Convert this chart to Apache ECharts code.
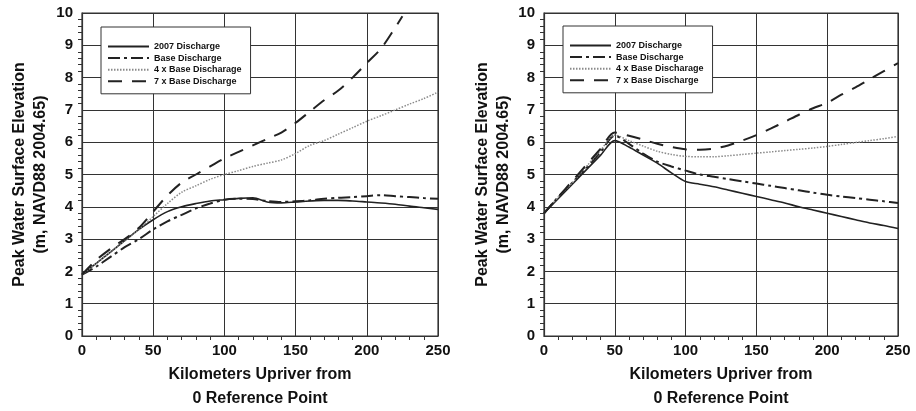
<!DOCTYPE html>
<html>
<head>
<meta charset="utf-8">
<title>Peak Water Surface Elevation</title>
<script src="https://cdn.jsdelivr.net/npm/echarts@6/dist/echarts.min.js"></script>
<style>
  html, body { margin: 0; padding: 0; background: #fff; }
  #chart { width: 916px; height: 411px; }
</style>
</head>
<body>
<div id="chart"></div>
<script>
// 数据
var seriesNames = ['2007 Discharge', 'Base Discharge', '4 x Base Discharage', '7 x Base Discharge'];
var xTicks = [0, 50, 100, 150, 200, 250];
var yTicks = [0, 1, 2, 3, 4, 5, 6, 7, 8, 9, 10];

var km = [0, 10, 20, 30, 40, 50, 60, 70, 80, 90, 100, 110, 120, 130, 140, 150, 160, 170, 180, 190, 200, 210, 220, 230, 240, 250];
var kmLeft7x = [0, 10, 20, 30, 40, 50, 60, 70, 80, 90, 100, 110, 120, 130, 140, 150, 160, 170, 180, 190, 200, 210, 220, 225];

// left panel
var left2007 = [1.9, 2.25, 2.6, 2.95, 3.3, 3.6, 3.85, 4.0, 4.1, 4.18, 4.22, 4.26, 4.28, 4.15, 4.12, 4.15, 4.18, 4.2, 4.2, 4.18, 4.15, 4.12, 4.08, 4.02, 3.97, 3.92];
var leftBase = [1.9, 2.15, 2.45, 2.75, 3.0, 3.3, 3.55, 3.75, 3.95, 4.1, 4.22, 4.25, 4.24, 4.18, 4.15, 4.17, 4.2, 4.25, 4.28, 4.3, 4.33, 4.36, 4.33, 4.3, 4.27, 4.25];
var left4x = [1.9, 2.25, 2.6, 2.95, 3.3, 3.7, 4.1, 4.45, 4.65, 4.85, 5.0, 5.12, 5.25, 5.35, 5.45, 5.65, 5.9, 6.05, 6.25, 6.45, 6.65, 6.82, 7.0, 7.18, 7.35, 7.55];
var left7x = [1.9, 2.35, 2.7, 3.0, 3.35, 3.85, 4.35, 4.75, 5.0, 5.25, 5.5, 5.7, 5.9, 6.1, 6.3, 6.6, 6.95, 7.3, 7.6, 8.0, 8.45, 8.9, 9.55, 9.9];

// right panel
var right2007 = [3.8, 4.25, 4.7, 5.15, 5.6, 6.05, 5.85, 5.6, 5.35, 5.05, 4.78, 4.7, 4.62, 4.52, 4.42, 4.32, 4.22, 4.12, 4.0, 3.9, 3.8, 3.7, 3.6, 3.5, 3.42, 3.33];
var rightBase = [3.8, 4.3, 4.75, 5.2, 5.7, 6.2, 5.95, 5.65, 5.4, 5.25, 5.12, 5.0, 4.93, 4.86, 4.79, 4.72, 4.65, 4.58, 4.51, 4.44, 4.37, 4.32, 4.27, 4.22, 4.17, 4.12];
var right4x = [3.8, 4.3, 4.75, 5.25, 5.75, 6.22, 6.05, 5.88, 5.72, 5.62, 5.56, 5.55, 5.55, 5.58, 5.62, 5.66, 5.7, 5.74, 5.78, 5.82, 5.87, 5.93, 5.99, 6.05, 6.11, 6.18];
var right7x = [3.8, 4.3, 4.8, 5.3, 5.8, 6.3, 6.2, 6.08, 5.95, 5.85, 5.78, 5.77, 5.8, 5.9, 6.05, 6.22, 6.42, 6.63, 6.85, 7.05, 7.22, 7.47, 7.7, 7.95, 8.2, 8.45];

function pairs(xs, ys) {
    return xs.map(function (x, i) { return [x, ys[i]]; });
}

var font = "'Liberation Sans', Arial, sans-serif";
var ink = '#222';

// 线型
var styles = [
    { color: ink, width: 1.6, type: 'solid' },
    { color: ink, width: 2, type: [12, 4, 3, 4] },
    { color: '#8a8a8a', width: 1.5, type: [1.5, 1.5] },
    { color: ink, width: 2, type: [14, 10] }
];

function makeGrid(left, right) {
    return {
        left: left, right: right, top: 13, bottom: 75,
        outerBoundsMode: 'none',
        containLabel: false,
        show: true, borderColor: '#333', borderWidth: 1.2,
        backgroundColor: 'transparent'
    };
}

function makeX(idx) {
    return {
        type: 'value', gridIndex: idx, min: 0, max: 250, interval: 50,
        name: 'Kilometers Upriver from\n0 Reference Point',
        nameLocation: 'middle', nameGap: 27,
        nameTextStyle: { fontFamily: font, fontWeight: 'bold', fontSize: 16, color: '#111', lineHeight: 24 },
        axisLine: { show: true, lineStyle: { color: '#333', width: 1.2 } },
        axisTick: { show: false },
        minorTick: { show: true, splitNumber: 5, length: 4, lineStyle: { color: '#333' } },
        splitLine: { show: true, lineStyle: { color: '#333', width: 1 } },
        axisLabel: { fontFamily: font, fontWeight: 'bold', fontSize: 15, color: '#111', margin: 7,
            formatter: function (v) { return xTicks.indexOf(v) >= 0 ? String(v) : ''; } }
    };
}

function makeY(idx, gap) {
    return {
        type: 'value', gridIndex: idx, min: 0, max: 10, interval: 1,
        name: 'Peak Water Surface Elevation\n(m, NAVD88 2004.65)',
        nameLocation: 'middle', nameGap: gap, nameRotate: 90,
        nameTextStyle: { fontFamily: font, fontWeight: 'bold', fontSize: 16, color: '#111', lineHeight: 21 },
        axisLine: { show: true, lineStyle: { color: '#333', width: 1.2 } },
        axisTick: { show: false },
        minorTick: { show: true, splitNumber: 5, length: 4, lineStyle: { color: '#333' } },
        splitLine: { show: true, lineStyle: { color: '#333', width: 1 } },
        axisLabel: { fontFamily: font, fontWeight: 'bold', fontSize: 15, color: '#111', margin: 9,
            formatter: function (v) { return yTicks.indexOf(v) >= 0 ? String(v) : ''; } }
    };
}

function makeLegend(left, top) {
    return {
        orient: 'vertical', left: left, top: top,
        data: seriesNames,
        backgroundColor: '#fff',
        borderColor: '#333', borderWidth: 1,
        padding: [15, 9, 8, 6],
        itemGap: 2.6, itemWidth: 41, itemHeight: 9,
        selectedMode: false,
        itemStyle: { opacity: 0 },
        textStyle: { fontFamily: font, fontWeight: 'bold', fontSize: 9, color: '#111' }
    };
}

function line(name, idx, data, s) {
    return {
        name: name, type: 'line', xAxisIndex: idx, yAxisIndex: idx,
        data: data, symbol: 'none', smooth: 0.3, silent: true,
        color: s.color,
        lineStyle: { color: s.color, width: s.width, type: s.type }
    };
}

var chart = echarts.init(document.getElementById('chart'), null, { renderer: 'canvas' });
chart.setOption({
    animation: false,
    backgroundColor: '#fff',
    grid: [makeGrid(82, 478), makeGrid(544, 18)],
    xAxis: [makeX(0), makeX(1)],
    yAxis: [makeY(0, 31), makeY(1, 30)],
    legend: [makeLegend(101, 27), makeLegend(563, 26)],
    series: [
        line(seriesNames[0], 0, pairs(km, left2007), styles[0]),
        line(seriesNames[1], 0, pairs(km, leftBase), styles[1]),
        line(seriesNames[2], 0, pairs(km, left4x), styles[2]),
        line(seriesNames[3], 0, pairs(kmLeft7x, left7x), styles[3]),
        line(seriesNames[0], 1, pairs(km, right2007), styles[0]),
        line(seriesNames[1], 1, pairs(km, rightBase), styles[1]),
        line(seriesNames[2], 1, pairs(km, right4x), styles[2]),
        line(seriesNames[3], 1, pairs(km, right7x), styles[3])
    ]
});
</script>
</body>
</html>
